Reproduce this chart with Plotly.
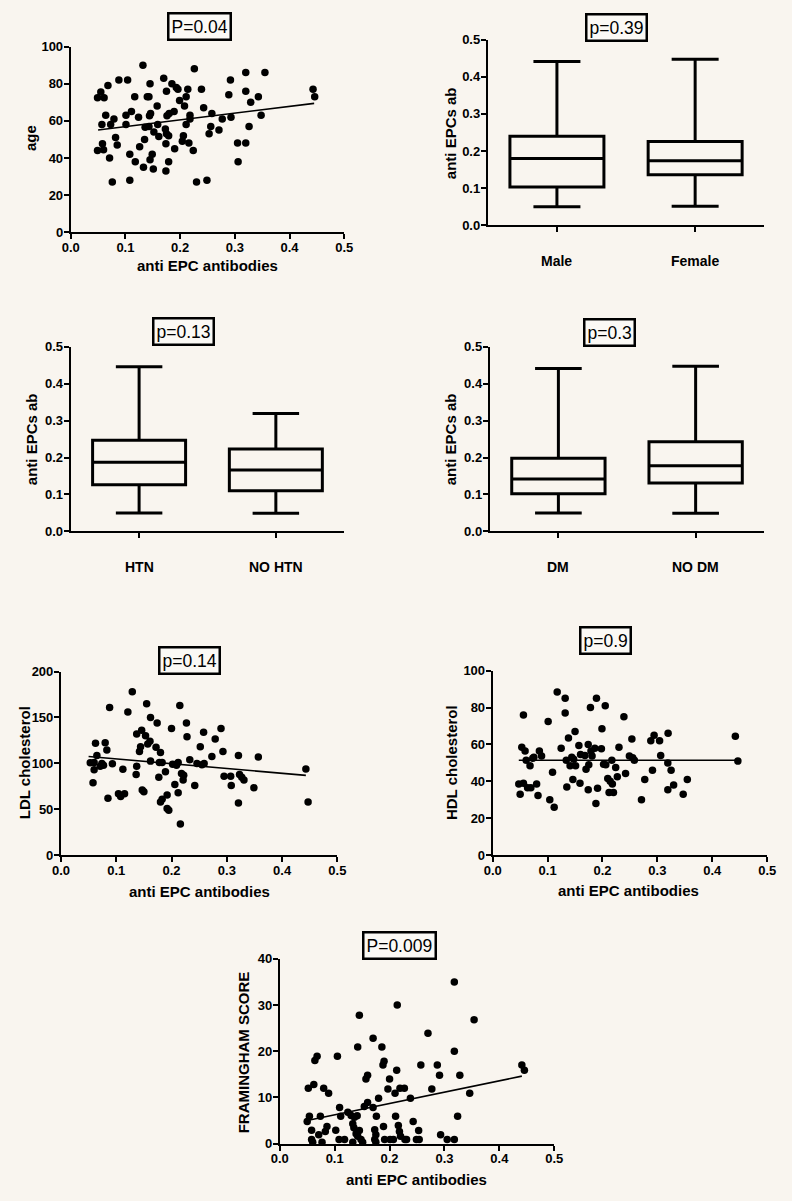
import plotly.graph_objects as go

# page is 792x1201; the browser body keeps its default 8px margin,
# so the figure itself is 16px smaller and all reference pixels shift by 8.
PAGE_W, PAGE_H = 792, 1201
OFF = 8
W, H = PAGE_W - 2 * OFF, PAGE_H - 2 * OFF
BG = "#f9f5ef"
FONT = "Liberation Sans"

# ---------------- data ----------------
age_x = [0.049,0.049,0.055,0.061,0.057,0.058,0.060,0.064,0.068,0.071,
         0.073,0.076,0.079,0.082,0.085,0.088,0.101,0.101,0.104,0.108,
         0.108,0.111,0.117,0.118,0.124,0.126,0.132,0.133,0.135,0.136,
         0.140,0.143,0.145,0.143,0.144,0.146,0.145,0.149,0.151,0.152,
         0.158,0.159,0.161,0.170,0.175,0.176,0.173,0.175,0.174,0.174,
         0.179,0.179,0.180,0.185,0.189,0.190,0.193,0.196,0.199,0.204,
         0.206,0.208,0.211,0.214,0.211,0.218,0.218,0.216,0.224,0.226,
         0.230,0.239,0.243,0.249,0.253,0.256,0.258,0.271,0.277,0.289,
         0.292,0.293,0.305,0.306,0.320,0.320,0.320,0.326,0.329,0.343,
         0.348,0.355,0.443,0.446]
age_y = [44,72.5,75.5,72.5,58,47.6,44.4,63,79,40,
         58,27,61,51,47,82,58,63,82,42,
         28,65,73,38,62,46,90,35,50,56.5,
         73,73,80,57,62.7,64,39,42,34,54,
         68,58,51.5,83,76,62.7,55.6,53,47.6,33,
         38,52,64,80,65,45,78,77,71,49,
         52,68,73,77,58,63,61,48,44,88,
         27,77,67,28,53,57,64,55,61,74,
         82,62,48,38,48,86,76,57,70,73,
         63,86,77,73]
age_fit_x = [0.05, 0.445]
age_fit_y = [55.1, 69.4]

ldl_x = [0.053,0.058,0.060,0.060,0.0625,0.065,0.071,0.074,0.077,0.080,
         0.083,0.085,0.088,0.093,0.104,0.108,0.112,0.115,0.121,0.129,
         0.136,0.137,0.137,0.142,0.146,0.144,0.147,0.150,0.153,0.155,
         0.157,0.161,0.162,0.162,0.172,0.174,0.177,0.178,0.180,0.180,
         0.183,0.183,0.189,0.192,0.192,0.195,0.200,0.202,0.206,0.209,
         0.212,0.212,0.215,0.216,0.218,0.221,0.222,0.227,0.228,0.233,
         0.242,0.246,0.252,0.255,0.258,0.259,0.273,0.279,0.2895,0.293,
         0.295,0.307,0.308,0.321,0.321,0.323,0.327,0.331,0.349,0.357,
         0.443,0.447]
ldl_y = [100.7,79,93,101,122,108.6,97,100,98,122.6,
         114.7,62,161,99.6,67,64,93.5,67,156,178,
         88,97,132,113,136,118,71,69,130,165,
         121,124,150,102.5,117.6,144,85,101,112,58,
         61,101,91,65.6,51,49,138,99,77,98,
         101,68,163,34,89,82,87,144,129,104,
         76,100,118,98.6,134,100,107.5,126.5,138,113,
         86,86,76,108.6,57,88,85,82,73.5,107,
         94,58]
ldl_fit_x = [0.05, 0.443]
ldl_fit_y = [107.5, 87.0]

hdl_x = [0.0475,0.050,0.053,0.056,0.056,0.059,0.061,0.0635,0.068,0.0695,
         0.073,0.075,0.080,0.0825,0.085,0.089,0.101,0.104,0.109,0.112,
         0.1175,0.1247,0.132,0.132,0.134,0.135,0.138,0.141,0.144,0.146,
         0.1475,0.150,0.151,0.157,0.159,0.160,0.168,0.170,0.174,0.174,
         0.175,0.178,0.179,0.181,0.186,0.188,0.189,0.191,0.198,0.199,
         0.202,0.205,0.206,0.2096,0.212,0.214,0.217,0.218,0.220,0.224,
         0.227,0.230,0.239,0.242,0.249,0.2535,0.255,0.258,0.271,0.277,
         0.288,0.291,0.294,0.304,0.306,0.319,0.319,0.3195,0.325,0.3296,
         0.347,0.3545,0.442,0.4466]
hdl_y = [38.6,33,58.5,76,39,56.4,51.4,36.5,48.4,36.5,
         52.5,53,38.6,32.4,56.4,53.7,72.4,30,45,26,
         88.4,58,85,77,51.4,37,63.5,48.4,53,41,
         52,67,48.4,59.4,39,54.6,54,46.6,60,35.4,
         49,80,56.4,53.7,58,28,85,36.3,57.6,68.5,
         49.3,81,49,41.6,34,40,51.4,38.6,34,47.5,
         42.5,58.5,75,44.3,53.7,63,52.8,51.4,30,41,
         62,46,65,62,54,50,35.4,66,46,38,
         33,41,64.4,51]
hdl_fit_x = [0.0475, 0.4466]
hdl_fit_y = [51.4, 51.4]

fram_x = [0.050,0.052,0.054,0.058,0.058,0.062,0.064,0.068,0.060,0.071,
          0.074,0.077,0.080,0.083,0.086,0.089,0.102,0.105,0.109,0.111,
          0.108,0.118,0.124,0.130,0.133,0.133,0.135,0.136,0.139,0.142,
          0.145,0.141,0.142,0.145,0.148,0.151,0.154,0.157,0.160,0.160,
          0.170,0.170,0.173,0.175,0.173,0.175,0.176,0.180,0.186,0.188,
          0.190,0.189,0.191,0.197,0.200,0.201,0.207,0.210,0.211,0.213,
          0.214,0.216,0.218,0.219,0.220,0.227,0.228,0.231,0.238,0.243,
          0.249,0.253,0.254,0.257,0.270,0.277,0.287,0.291,0.293,0.305,
          0.318,0.318,0.318,0.324,0.328,0.346,0.354,0.441,0.4456]
fram_y = [4.8,12,5.9,2.9,0.9,12.8,18,18.9,0.3,1.9,
          5.9,0.3,12,2.6,3.7,10.9,2.9,18.9,7.8,5.9,
          0.9,0.9,6.8,6.1,0.3,4.3,3.4,5.7,2.1,20.9,
          27.8,6,1.6,2.8,0.9,0.3,8,14,14.8,8.9,
          22.8,7.8,3,1.9,0.9,0.3,5.9,9.8,20.9,17,
          17.8,3.7,0.9,11.8,14,0.9,0.9,10.9,5.9,15.9,
          30,3.9,2.6,12,1.6,12,0.9,0.9,9.8,4.8,
          0.9,2.8,0.9,17,23.9,11.8,17,14.8,1.9,0.9,
          0.9,35,20,5.9,14.8,10.9,26.8,17,15.9]
fram_fit_x = [0.05, 0.441]
fram_fit_y = [5.0, 14.6]

sex_cats = ["Male", "Female"]
sex_min = [0.050, 0.051]
sex_q1 = [0.103, 0.136]
sex_med = [0.180, 0.174]
sex_q3 = [0.240, 0.226]
sex_max = [0.441, 0.447]

htn_cats = ["HTN", "NO HTN"]
htn_min = [0.050, 0.049]
htn_q1 = [0.126, 0.110]
htn_med = [0.187, 0.166]
htn_q3 = [0.247, 0.223]
htn_max = [0.446, 0.319]

dm_cats = ["DM", "NO DM"]
dm_min = [0.050, 0.049]
dm_q1 = [0.102, 0.131]
dm_med = [0.142, 0.178]
dm_q3 = [0.198, 0.243]
dm_max = [0.441, 0.447]

titles = ["P=0.04", "p=0.39", "p=0.13", "p=0.3", "p=0.14", "p=0.9", "P=0.009"]

# ---------------- layout helpers (reference page pixels -> paper) -------
def px_x(p):
    return (p - OFF) / W

def px_y(p):
    return 1 - (p - OFF) / H

# axis pixel boxes in page coords: (left, right, top, bottom)
boxes = [
    (63, 343, 40, 228),
    (490, 773, 33, 221),
    (63, 343, 344, 531),
    (492, 773, 344, 531),
    (53, 336, 673, 859),
    (495, 776, 672, 859),
    (277, 558, 964, 1151),
]

fig = go.Figure()

tickfont = dict(family=FONT, size=13, color="black", weight="bold")
common = dict(showline=True, linecolor="black", linewidth=2, ticks="outside",
              ticklen=5, tickwidth=2, tickcolor="black", showgrid=False,
              zeroline=False, tickfont=tickfont, mirror=False)

layout = {}
for i, (l, r, t, b) in enumerate(boxes, start=1):
    xa = "xaxis" if i == 1 else f"xaxis{i}"
    ya = "yaxis" if i == 1 else f"yaxis{i}"
    xid = "x" if i == 1 else f"x{i}"
    yid = "y" if i == 1 else f"y{i}"
    layout[xa] = dict(domain=[px_x(l), px_x(r)], anchor=yid,
                      ticklabelstandoff=-3, **common)
    layout[ya] = dict(domain=[px_y(b), px_y(t)], anchor=xid,
                      ticklabelstandoff=-2, **common)

# scatter panels
scatter_specs = [
    (1, age_x, age_y, age_fit_x, age_fit_y, [0, 100], 20),
    (5, ldl_x, ldl_y, ldl_fit_x, ldl_fit_y, [0, 200], 50),
    (6, hdl_x, hdl_y, hdl_fit_x, hdl_fit_y, [0, 100], 20),
    (7, fram_x, fram_y, fram_fit_x, fram_fit_y, [0, 40], 10),
]
for i, xs, ys, fx, fy, yr, dt in scatter_specs:
    xid = "x" if i == 1 else f"x{i}"
    yid = "y" if i == 1 else f"y{i}"
    fig.add_trace(go.Scatter(x=xs, y=ys, mode="markers", xaxis=xid, yaxis=yid,
                             marker=dict(color="black", size=7.5),
                             cliponaxis=False, showlegend=False))
    fig.add_trace(go.Scatter(x=fx, y=fy, mode="lines", xaxis=xid, yaxis=yid,
                             line=dict(color="black", width=1.6),
                             showlegend=False))
    xa = "xaxis" if i == 1 else f"xaxis{i}"
    ya = "yaxis" if i == 1 else f"yaxis{i}"
    layout[xa].update(range=[0, 0.5], dtick=0.1, tick0=0, tickformat=".1f")
    layout[ya].update(range=yr, dtick=dt, tick0=0)

# box panels
box_specs = [
    (2, sex_cats, sex_min, sex_q1, sex_med, sex_q3, sex_max),
    (3, htn_cats, htn_min, htn_q1, htn_med, htn_q3, htn_max),
    (4, dm_cats, dm_min, dm_q1, dm_med, dm_q3, dm_max),
]
annotations = []
for i, cats, mn, q1, md, q3, mx in box_specs:
    xid = f"x{i}"
    yid = f"y{i}"
    pos = list(range(len(cats)))
    fig.add_trace(go.Box(x=pos, lowerfence=mn, q1=q1, median=md, q3=q3,
                         upperfence=mx, width=0.68, whiskerwidth=0.5,
                         boxpoints=False, line=dict(color="black", width=3),
                         fillcolor="rgba(0,0,0,0)", xaxis=xid, yaxis=yid,
                         showlegend=False, hoverinfo="skip"))
    layout[f"xaxis{i}"].update(range=[-0.5, 1.5], tickvals=pos,
                               showticklabels=False)
    layout[f"yaxis{i}"].update(range=[0, 0.5], dtick=0.1, tick0=0,
                               tickformat=".1f")
    l, r, t, b = boxes[i - 1]
    for p, c in zip(pos, cats):
        annotations.append(dict(x=p, xref=xid, y=px_y(b + 36), yref="paper",
                                text=c, showarrow=False,
                                xanchor="center", yanchor="middle",
                                font=dict(family=FONT, size=14, color="black",
                                          weight="bold")))

# title boxes (p values)
title_pos = [(195, 20), (622, 20.5), (178.5, 328.5), (614.5, 330),
             (184.5, 661.5), (610, 642), (400, 950)]
for txt, (cx, cy) in zip(titles, title_pos):
    annotations.append(dict(x=px_x(cx), y=px_y(cy), xref="paper", yref="paper",
                            xanchor="center", yanchor="middle",
                            text=txt, showarrow=False, bordercolor="black",
                            borderwidth=2.5, borderpad=2, bgcolor="#fbf9f5",
                            font=dict(family=FONT, size=17.5, color="black")))

# axis titles
axis_titles = [
    ("age", 22, 133, -90),
    ("anti EPC antibodies", 203, 262, 0),
    ("anti EPCs ab", 452, 128, -90),
    ("anti EPCs ab", 23, 438, -90),
    ("anti EPCs ab", 452, 438, -90),
    ("LDL cholesterol", 16, 765, -90),
    ("anti EPC antibodies", 195, 896, 0),
    ("HDL cholesterol", 453, 765, -90),
    ("anti EPC antibodies", 634, 895, 0),
    ("FRAMINGHAM SCORE", 240, 1059, -90),
    ("anti EPC antibodies", 417, 1187, 0),
]
for txt, cx, cy, ang in axis_titles:
    annotations.append(dict(x=px_x(cx), y=px_y(cy), xref="paper", yref="paper",
                            text=txt, showarrow=False, textangle=ang,
                            xanchor="center", yanchor="middle",
                            font=dict(family=FONT, size=15, color="black",
                                      weight="bold")))

fig.update_layout(**layout)
fig.update_layout(width=W, height=H, autosize=False,
                  margin=dict(l=0, r=0, t=0, b=0),
                  paper_bgcolor=BG, plot_bgcolor=BG,
                  showlegend=False, annotations=annotations)

fig.write_html("out.html", config={"displayModeBar": False},
               post_script="document.body.style.background='%s';" % BG)
